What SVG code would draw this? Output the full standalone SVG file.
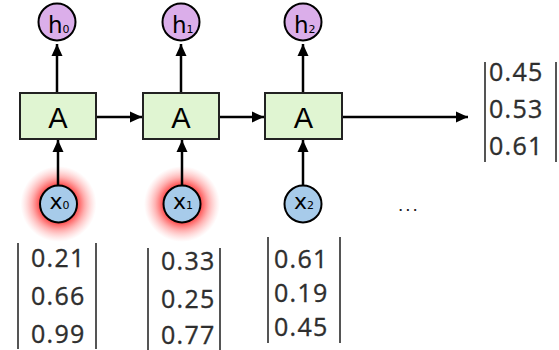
<svg xmlns="http://www.w3.org/2000/svg" width="559" height="350" viewBox="0 0 559 350">
  <defs>
    <marker id="arr" markerUnits="userSpaceOnUse" markerWidth="13" markerHeight="12" refX="12" refY="6" orient="auto">
      <path d="M0,0.5 L12,6 L0,11.5 z" fill="#000"/>
    </marker>
    <radialGradient id="glow">
      <stop offset="0.45" stop-color="#ff2a2a" stop-opacity="0.95"/>
      <stop offset="0.7" stop-color="#ff5050" stop-opacity="0.45"/>
      <stop offset="1" stop-color="#ff9090" stop-opacity="0"/>
    </radialGradient>
  </defs>
  <style>
    .box { fill: #e0f5d2; stroke: #222; stroke-width: 2; }
    .hc { fill: #dbaeea; stroke: #000; stroke-width: 2; }
    .xc { fill: #a7cbea; stroke: #000; stroke-width: 2; }
    .lbl { font-family: "DejaVu Sans", Verdana, sans-serif; fill: #000; }
    .big { font-family: "Liberation Sans", Arial, sans-serif; font-size: 29px; }
    .num { font-family: "Open Sans", "Liberation Sans", sans-serif; font-size: 25px; fill: #2e2e2e; letter-spacing: 1.3px; stroke: #2e2e2e; stroke-width: 0.35px; }
    .bar { stroke: #555; stroke-width: 2; }
    .edge { stroke: #000; stroke-width: 2.5; fill: none; marker-end: url(#arr); }
  </style>
  <rect width="559" height="350" fill="#fff"/>

  <g id="glows">
    <circle cx="58.5" cy="204" r="38" fill="url(#glow)"/>
    <circle cx="182" cy="204" r="38" fill="url(#glow)"/>
  </g>

  <g id="connectors">
    <line class="edge" x1="57" y1="93" x2="57" y2="44"/>
    <line class="edge" x1="181" y1="93" x2="181" y2="44"/>
    <line class="edge" x1="303" y1="93" x2="303" y2="44"/>
    <line class="edge" x1="96" y1="117" x2="142" y2="117"/>
    <line class="edge" x1="219" y1="117" x2="264" y2="117"/>
    <line class="edge" x1="342" y1="117" x2="468" y2="117"/>
    <line class="edge" x1="58" y1="185" x2="58" y2="140"/>
    <line class="edge" x1="182" y1="185" x2="182" y2="140"/>
    <line class="edge" x1="303" y1="185" x2="303" y2="140"/>
  </g>

  <g id="A0">
    <rect class="box" x="20" y="93" width="76" height="46"/>
    <text class="lbl big" x="58" y="128" text-anchor="middle">A</text>
  </g>
  <g id="A1">
    <rect class="box" x="143" y="93" width="76" height="46"/>
    <text class="lbl big" x="181" y="128" text-anchor="middle">A</text>
  </g>
  <g id="A2">
    <rect class="box" x="265" y="93" width="77" height="46"/>
    <text class="lbl big" x="303.5" y="128" text-anchor="middle">A</text>
  </g>

  <g id="h0">
    <circle class="hc" cx="57" cy="22" r="18.5"/>
    <text class="lbl" x="48" y="33" font-size="23">h<tspan font-size="11">0</tspan></text>
  </g>
  <g id="h1">
    <circle class="hc" cx="181" cy="22" r="18.5"/>
    <text class="lbl" x="172" y="33" font-size="23">h<tspan font-size="11">1</tspan></text>
  </g>
  <g id="h2">
    <circle class="hc" cx="303" cy="22" r="18.5"/>
    <text class="lbl" x="294" y="33" font-size="23">h<tspan font-size="11">2</tspan></text>
  </g>

  <g id="x0">
    <circle class="xc" cx="58.5" cy="204" r="18.5"/>
    <text class="lbl" x="49.5" y="209" font-size="22">x<tspan font-size="11">0</tspan></text>
  </g>
  <g id="x1">
    <circle class="xc" cx="182" cy="204" r="18.5"/>
    <text class="lbl" x="173" y="209" font-size="22">x<tspan font-size="11">1</tspan></text>
  </g>
  <g id="x2">
    <circle class="xc" cx="303" cy="204" r="18.5"/>
    <text class="lbl" x="294" y="209" font-size="22">x<tspan font-size="11">2</tspan></text>
  </g>

  <g id="dots">
    <text x="398" y="211" font-family="Liberation Sans, Arial, sans-serif" font-size="19" letter-spacing="2" fill="#222">...</text>
  </g>

  <g id="vec_out">
    <line class="bar" x1="485" y1="62" x2="485" y2="162"/>
    <line class="bar" x1="556" y1="62" x2="556" y2="162"/>
    <text class="num" x="489" y="81">0.45</text>
    <text class="num" x="489" y="118">0.53</text>
    <text class="num" x="489" y="155">0.61</text>
  </g>
  <g id="vec0">
    <line class="bar" x1="18" y1="243" x2="18" y2="349"/>
    <line class="bar" x1="96" y1="243" x2="96" y2="349"/>
    <text class="num" x="31" y="267">0.21</text>
    <text class="num" x="31" y="305">0.66</text>
    <text class="num" x="31" y="343">0.99</text>
  </g>
  <g id="vec1">
    <line class="bar" x1="148" y1="248" x2="148" y2="350"/>
    <line class="bar" x1="220" y1="248" x2="220" y2="350"/>
    <text class="num" x="161" y="270">0.33</text>
    <text class="num" x="161" y="308">0.25</text>
    <text class="num" x="161" y="344">0.77</text>
  </g>
  <g id="vec2">
    <line class="bar" x1="268" y1="237" x2="268" y2="343"/>
    <line class="bar" x1="340" y1="237" x2="340" y2="343"/>
    <text class="num" x="274" y="268">0.61</text>
    <text class="num" x="274" y="302">0.19</text>
    <text class="num" x="274" y="336">0.45</text>
  </g>
</svg>
